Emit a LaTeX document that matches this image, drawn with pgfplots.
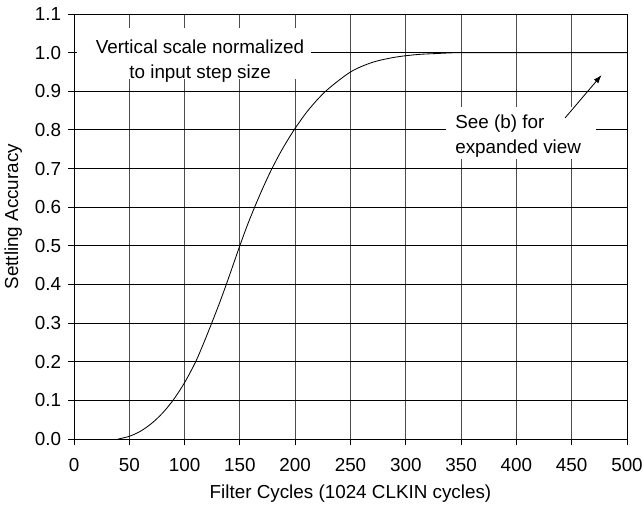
\documentclass[border=0pt]{standalone}
\usepackage{pgfplots}
\pgfplotsset{compat=1.18}
\usepackage{fontspec}
\setmainfont{Liberation Sans}
\usetikzlibrary{arrows.meta}

\newcommand{\chartfont}{\fontsize{11.3}{15}\selectfont}

\begin{document}
\chartfont
\begin{tikzpicture}
  \begin{axis}[
    scale only axis,
    width=331.8pt,
    height=255pt,
    xmin=0, xmax=500,
    ymin=0, ymax=1.1,
    xtick={0,50,...,500},
    ytick={0,0.1,...,1.1},
    /pgf/number format/assume math mode=true,
    yticklabel style={/pgf/number format/.cd, fixed, fixed zerofill, precision=1},
    xticklabel style={yshift=-4pt},
    ticklabel style={font=\chartfont},
    tick align=outside,
    tick pos=left,
    major tick length=3.8pt,
    tick style={black, line width=0.6pt},
    grid=major,
    x grid style={black!70, line width=0.6pt},
    y grid style={black, line width=0.6pt},
    axis line style={black, line width=0.6pt},
    xlabel={Filter Cycles (1024 CLKIN cycles)},
    ylabel={Settling Accuracy},
    label style={font=\chartfont},
    ylabel style={at={(ticklabel cs:0.523)}},
  ]
    \addplot[black, line width=0.5pt, smooth, tension=0.5] coordinates {
      (40,0) (50,0.007) (60,0.02) (70,0.04) (80,0.067) (90,0.102)
      (100,0.146) (110,0.2) (117.5,0.25) (124.5,0.3) (131.3,0.35)
      (137.7,0.4) (143.8,0.45) (149.9,0.5) (156.3,0.55) (163.3,0.6)
      (170.8,0.65) (179,0.7) (188.3,0.75) (199,0.8) (211.5,0.85)
      (227.5,0.9) (250,0.95) (270,0.975) (290,0.988) (310,0.995)
      (330,0.998) (350,1.0) (400,1.0) (450,1.0) (500,1.0)
    };

    % white boxes behind the notes
    \fill[white] (axis cs:3,0.931) rectangle (axis cs:214,1.064);
    \fill[white] (axis cs:336,0.726) rectangle (axis cs:472,0.859);

    \node[align=center, inner sep=0pt, font=\chartfont]
      at (axis cs:114,0.978) {Vertical scale normalized\\to input step size};

    \node[align=left, anchor=west, inner sep=0pt, font=\chartfont]
      at (axis cs:344.5,0.784) {See (b) for\\expanded view};

    \draw[black, line width=0.5pt, -{Latex[length=5pt, width=3.5pt]}]
      (axis cs:444,0.831) -- (axis cs:477,0.942);
  \end{axis}
  \pgfresetboundingbox
  \path ([shift={(-44.4pt,-40.2pt)}]current axis.south west)
    rectangle ([shift={(10.2pt,8.4pt)}]current axis.north east);
\end{tikzpicture}
\end{document}
